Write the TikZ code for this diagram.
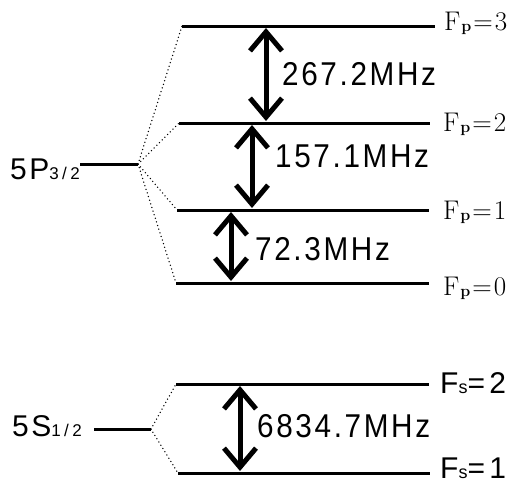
\documentclass[tikz,border=0pt]{standalone}
\usepackage{fontspec}
\usetikzlibrary{arrows.meta}
\newfontfamily\hfsans[LetterSpace=8]{Liberation Sans}
\newfontfamily\hfnum[LetterSpace=8,FakeStretch=0.9]{Liberation Sans}
\newfontfamily\hfwide[LetterSpace=14]{Liberation Sans}
\newfontfamily\hfsub[LetterSpace=20]{Liberation Sans}
\newcommand{\mhz}[1]{{\hfnum\fontsize{33}{33}\selectfont #1}}
\newcommand{\termlabel}[3]{{\hfsans\fontsize{30}{30}\selectfont #1#2\hfsub\fontsize{17}{17}\selectfont #3}}
\newcommand{\fplabel}[1]{{\fontsize{27}{27}\selectfont F\kern1pt\raisebox{-1.5pt}{\fontsize{16}{16}\selectfont\bfseries p}\kern2pt=\kern2pt#1}}
\newcommand{\fslabel}[1]{{\hfwide\fontsize{30}{30}\selectfont F{\fontsize{18}{18}\selectfont s}=#1}}
\begin{document}
\begin{tikzpicture}[x=1pt,y=-1pt,
  level/.style={line width=3pt},
  fan/.style={line width=1.5pt,line cap=round,dash pattern=on 0pt off 3.8pt},
  barb/.tip={Straight Barb[length=19pt,width=32pt,line width=5pt]},
  split/.style={line width=5pt,barb-barb},
  txt/.style={inner sep=0pt,anchor=base west}]
\useasboundingbox (0,0) rectangle (518,483);

% fine structure of 5P_{3/2}
\coordinate (PL) at (80,164);   \coordinate (PR) at (138,164);
\coordinate (P3L) at (182,26);  \coordinate (P3R) at (435,26);
\coordinate (P2L) at (179,123); \coordinate (P2R) at (430,123);
\coordinate (P1L) at (177,210); \coordinate (P1R) at (429,210);
\coordinate (P0L) at (176,283); \coordinate (P0R) at (429,283);
% hyperfine levels of 5S_{1/2}
\coordinate (SL) at (94,429);   \coordinate (SR) at (151,429);
\coordinate (S2L) at (176,384); \coordinate (S2R) at (429,384);
\coordinate (S1L) at (178,473); \coordinate (S1R) at (430,473);

\foreach \a/\b in {PL/PR,P3L/P3R,P2L/P2R,P1L/P1R,P0L/P0R,SL/SR,S2L/S2R,S1L/S1R}
  \draw[level] (\a) -- (\b);
\foreach \t in {P3L,P2L,P1L,P0L}
  \draw[fan] (PR) -- (\t);
\foreach \t in {S2L,S1L}
  \draw[fan] (SR) -- (\t);

% splitting arrows
\coordinate (a3t) at (266,28);  \coordinate (a3b) at (266,121);
\coordinate (a2t) at (252,125); \coordinate (a2b) at (252,208);
\coordinate (a1t) at (231,212); \coordinate (a1b) at (231,281);
\coordinate (ast) at (240,386); \coordinate (asb) at (240,471);
\draw[split] (a3t) -- (a3b);
\draw[split] (a2t) -- (a2b);
\draw[split] (a1t) -- (a1b);
\draw[split] (ast) -- (asb);

% frequency labels
\node[txt] (f3) at (282,85)  {\mhz{267.2MHz}};
\node[txt] (f2) at (275,167) {\mhz{157.1MHz}};
\node[txt] (f1) at (255,260) {\mhz{72.3MHz}};
\node[txt] (fs) at (257,437) {\mhz{6834.7MHz}};

% term labels
\node[txt] (p32) at (10,179) {\termlabel{5}{P}{3/2}};
\node[txt] (s12) at (12,436) {\termlabel{5}{S}{1/2}};

% quantum numbers
\node[txt] (lp3) at (444,30)  {\fplabel{3}};
\node[txt] (lp2) at (443,131) {\fplabel{2}};
\node[txt] (lp1) at (443,219) {\fplabel{1}};
\node[txt] (lp0) at (443,295) {\fplabel{0}};
\node[txt] (ls2) at (440,393) {\fslabel{2}};
\node[txt] (ls1) at (440,478) {\fslabel{1}};
\end{tikzpicture}
\end{document}
